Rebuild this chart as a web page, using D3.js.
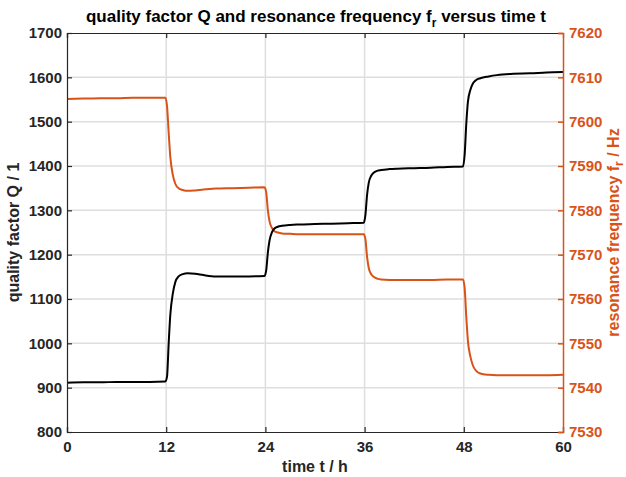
<!DOCTYPE html>
<html>
<head>
<meta charset="utf-8">
<script src="https://cdn.jsdelivr.net/npm/d3@7"></script>
<style>
  body { margin: 0; background: #fff; }
  text { font-family: "Liberation Sans", Arial, sans-serif; font-weight: bold; }
</style>
</head>
<body>
<script>
// time in hours
var hours = [0, 2, 4, 6, 8, 10, 11.9, 12.1, 12.3, 12.5, 12.8, 13.1, 13.5, 14, 14.6, 15.5, 16.5, 18, 20, 22, 23.9,
  24.1, 24.3, 24.5, 24.8, 25.1, 25.5, 26, 27, 28, 30, 32, 34, 35.9,
  36.1, 36.3, 36.5, 36.8, 37.1, 37.5, 38, 39, 40, 42, 44, 46, 47.9,
  48.1, 48.3, 48.5, 48.8, 49.1, 49.5, 50, 51, 52, 54, 56, 58, 60];

// quality factor Q
var qValues = [911, 912, 912, 913, 913, 913, 914, 925, 1000, 1065, 1112, 1138, 1151, 1156, 1158, 1157, 1154, 1151, 1151, 1151, 1152,
  1165, 1205, 1232, 1251, 1259, 1263, 1265, 1267, 1268, 1269, 1270, 1271, 1272,
  1290, 1335, 1362, 1378, 1385, 1389, 1391, 1393, 1394, 1395, 1396, 1398, 1399,
  1425, 1495, 1545, 1572, 1586, 1594, 1598, 1602, 1605, 1608, 1609, 1611, 1612];

// resonance frequency f_r in Hz
var frValues = [7605.1, 7605.2, 7605.3, 7605.3, 7605.4, 7605.4, 7605.4, 7603.5, 7597.5, 7592, 7588, 7586, 7585, 7584.6, 7584.4, 7584.5, 7584.7, 7584.9, 7585, 7585.1, 7585.2,
  7584, 7580, 7577.5, 7576, 7575.3, 7575, 7574.8, 7574.7, 7574.6, 7574.6, 7574.6, 7574.6, 7574.6,
  7573.5, 7569.5, 7567, 7565.6, 7565, 7564.6, 7564.4, 7564.3, 7564.3, 7564.3, 7564.3, 7564.4, 7564.4,
  7562.5, 7556, 7550.5, 7547, 7545, 7543.8, 7543.2, 7542.9, 7542.8, 7542.8, 7542.8, 7542.8, 7542.9];

var xTicks = [0, 12, 24, 36, 48, 60];
var qTicks = [800, 900, 1000, 1100, 1200, 1300, 1400, 1500, 1600, 1700];
var frTicks = [7530, 7540, 7550, 7560, 7570, 7580, 7590, 7600, 7610, 7620];

var width = 626, height = 477;
var mLeft = 67, mRight = 563, mTop = 33, mBottom = 432;
var dark = "#262626", orange = "#D95319";

var svg = d3.select("body").append("svg")
  .attr("width", width)
  .attr("height", height);

var x = d3.scaleLinear().domain([0, 60]).range([mLeft, mRight]);
var yQ = d3.scaleLinear().domain([800, 1700]).range([mBottom, mTop]);
var yF = d3.scaleLinear().domain([7530, 7620]).range([mBottom, mTop]);

// grid
var grid = svg.append("g");
grid.selectAll(".vg").data(xTicks.slice(1, -1)).enter().append("line")
  .attr("x1", function (d) { return x(d); })
  .attr("x2", function (d) { return x(d); })
  .attr("y1", mTop).attr("y2", mBottom)
  .attr("stroke", "#dedede").attr("stroke-width", 1.5);
grid.selectAll(".hg").data(qTicks.slice(1, -1)).enter().append("line")
  .attr("x1", mLeft).attr("x2", mRight)
  .attr("y1", function (d) { return yQ(d); })
  .attr("y2", function (d) { return yQ(d); })
  .attr("stroke", "#dedede").attr("stroke-width", 1.5);

// data lines
var points = hours.map(function (t, i) { return { t: t, q: qValues[i], f: frValues[i] }; });

svg.append("path")
  .datum(points)
  .attr("fill", "none")
  .attr("stroke", orange)
  .attr("stroke-width", 2)
  .attr("d", d3.line()
    .curve(d3.curveMonotoneX)
    .x(function (d) { return x(d.t); })
    .y(function (d) { return yF(d.f); }));

svg.append("path")
  .datum(points)
  .attr("fill", "none")
  .attr("stroke", "#000")
  .attr("stroke-width", 2)
  .attr("d", d3.line()
    .curve(d3.curveMonotoneX)
    .x(function (d) { return x(d.t); })
    .y(function (d) { return yQ(d.q); }));

// axes
var fmt = d3.format("d");
var xAxis = svg.append("g")
  .attr("transform", "translate(0," + mBottom + ")")
  .call(d3.axisBottom(x).tickValues(xTicks).tickSize(-5).tickPadding(9).tickFormat(fmt));
var xTop = svg.append("g")
  .attr("transform", "translate(0," + mTop + ")")
  .call(d3.axisTop(x).tickValues(xTicks).tickSize(-5).tickFormat(""));
var yLeft = svg.append("g")
  .attr("transform", "translate(" + mLeft + ",0)")
  .call(d3.axisLeft(yQ).tickValues(qTicks).tickSize(-5).tickPadding(5).tickFormat(fmt));
var yRight = svg.append("g")
  .attr("transform", "translate(" + mRight + ",0)")
  .call(d3.axisRight(yF).tickValues(frTicks).tickSize(-5).tickPadding(6).tickFormat(fmt));

[xAxis, xTop, yLeft].forEach(function (g) {
  g.select(".domain").attr("stroke", dark).attr("stroke-width", 1.2);
  g.selectAll(".tick line").attr("stroke", dark).attr("stroke-width", 1.2);
  g.selectAll("text").attr("fill", dark).style("font-size", "15px");
});
xTop.selectAll(".tick").filter(function (d) { return d === 60; }).remove();
yRight.select(".domain").attr("stroke", orange).attr("stroke-width", 1.5);
yRight.selectAll(".tick line").attr("stroke", orange).attr("stroke-width", 1.5);
yRight.selectAll("text").attr("fill", orange).style("font-size", "15px");

// titles
var title = svg.append("text")
  .attr("x", 316).attr("y", 22)
  .attr("text-anchor", "middle")
  .attr("fill", "#000")
  .style("font-size", "17px");
title.append("tspan").text("quality factor Q and resonance frequency f");
title.append("tspan").attr("dy", 5).style("font-size", "12px").text("r");
title.append("tspan").attr("dy", -5).text(" versus time t");

svg.append("text")
  .attr("x", (mLeft + mRight) / 2).attr("y", 472)
  .attr("text-anchor", "middle")
  .attr("fill", dark)
  .style("font-size", "16px")
  .text("time t / h");

svg.append("text")
  .attr("transform", "translate(19," + (mTop + mBottom) / 2 + ") rotate(-90)")
  .attr("text-anchor", "middle")
  .attr("fill", dark)
  .style("font-size", "16px")
  .text("quality factor Q / 1");

var rl = svg.append("text")
  .attr("transform", "translate(619," + (mTop + mBottom) / 2 + ") rotate(-90)")
  .attr("text-anchor", "middle")
  .attr("fill", orange)
  .style("font-size", "16px");
rl.append("tspan").text("resonance frequency f");
rl.append("tspan").attr("dy", 4).style("font-size", "12px").text("r");
rl.append("tspan").attr("dy", -4).text(" / Hz");
</script>
</body>
</html>
